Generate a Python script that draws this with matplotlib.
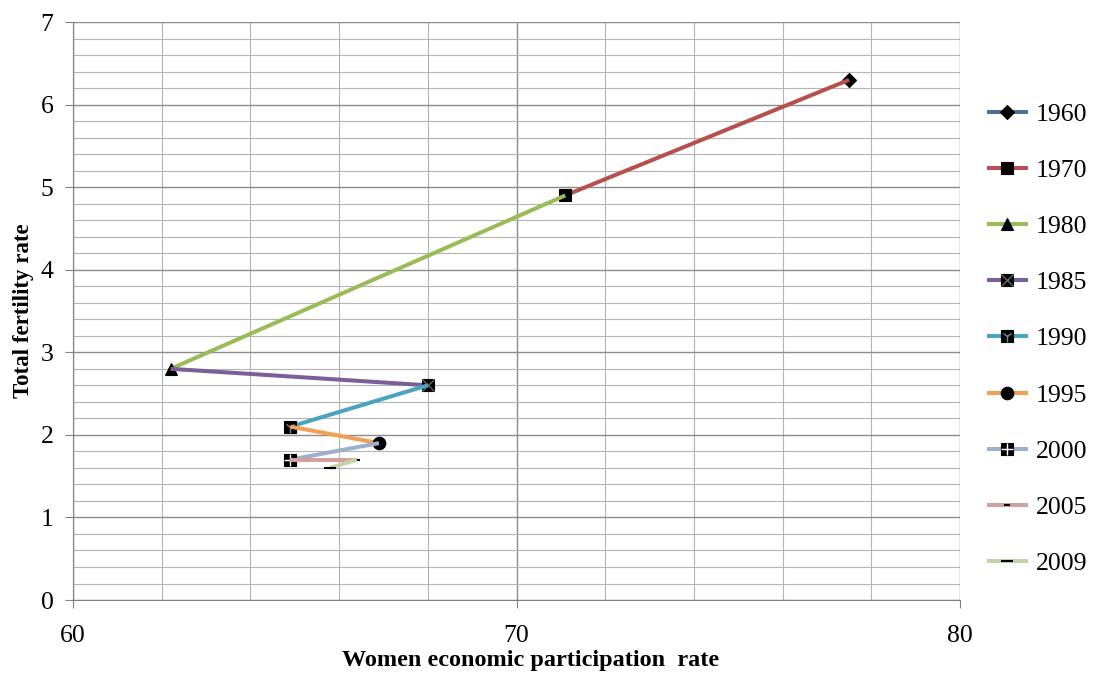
import matplotlib.pyplot as plt
from matplotlib.ticker import MultipleLocator

# Data
years = ['1960', '1970', '1980', '1985', '1990', '1995', '2000', '2005', '2009']
participation = [77.5, 71.1, 62.2, 68.0, 64.9, 66.9, 64.9, 66.4, 65.8]
fertility = [6.3, 4.9, 2.8, 2.6, 2.1, 1.9, 1.7, 1.7, 1.6]

colors = ['#4F6F93', '#B5504C', '#9BBB59', '#7A5F99', '#4BA3BC',
          '#F0A050', '#9DB0CC', '#D3A0A0', '#C3D3A8']
markers = ['D', 's', '^', 's', 's', 'o', 's', '_', '_']
msizes = [7, 9, 8, 9, 9, 9, 9, 5, 9]
# small overlays drawn on top of some markers (x, star, plus)
overlay = [None, None, None, 'x', '1', None, '+', None, None]
overlay_col = [None, None, None, '#666666', '#888888', None, 'white', None, None]

plt.rcParams['font.family'] = ['Liberation Serif', 'DejaVu Serif']

fig = plt.figure(figsize=(11, 6.77), dpi=100)
ax = fig.add_axes([0.0664, 0.1137, 0.8063, 0.8538])

handles = []
for i, yr in enumerate(years):
    if i == 0:
        xs, ys = [participation[0]], [fertility[0]]
        mev = [0]
    else:
        xs = [participation[i - 1], participation[i]]
        ys = [fertility[i - 1], fertility[i]]
        mev = [1]
    ln, = ax.plot(xs, ys, color=colors[i], linewidth=2.9, marker=markers[i],
                  markersize=msizes[i], markerfacecolor='black',
                  markeredgecolor='black', markeredgewidth=1.5 if markers[i] == '_' else 0.8,
                  markevery=mev, zorder=3 + i, solid_capstyle='butt')
    h = ln
    if overlay[i]:
        ov, = ax.plot([participation[i]], [fertility[i]], linestyle='none',
                      marker=overlay[i], markersize=msizes[i] - 1,
                      markeredgecolor=overlay_col[i], markeredgewidth=1.0,
                      zorder=3 + i)
        h = (ln, ov)
    handles.append(h)

ax.set_xlim(60, 80)
ax.set_ylim(0, 7)
ax.xaxis.set_major_locator(MultipleLocator(10))
ax.xaxis.set_minor_locator(MultipleLocator(2))
ax.yaxis.set_major_locator(MultipleLocator(1))
ax.yaxis.set_minor_locator(MultipleLocator(0.2))
ax.grid(which='major', color='#8c8c8c', linewidth=1.0)
ax.grid(which='minor', color='#b4b4b4', linewidth=0.8)
ax.set_axisbelow(True)
ax.tick_params(which='major', direction='out', length=6, color='#808080',
               labelsize=18.5, pad=8)
ax.tick_params(which='minor', length=0)
ax.tick_params(axis='x', pad=12)
for s in ['top', 'right']:
    ax.spines[s].set_visible(False)
for s in ['left', 'bottom']:
    ax.spines[s].set_color('#808080')

ax.set_xlabel('Women economic participation  rate', fontsize=17.5, fontweight='bold')
ax.set_ylabel('Total fertility rate', fontsize=16.5, fontweight='bold')
ax.xaxis.set_label_coords(0.516, -0.087)
ax.yaxis.set_label_coords(-0.044, 0.5)

leg = fig.legend(handles, years, loc='upper left', bbox_to_anchor=(0.897, 0.848),
                 frameon=False, fontsize=18.5, labelspacing=1.29, handlelength=1.6,
                 handletextpad=0.3, numpoints=1, borderaxespad=0, borderpad=0)

fig.savefig('out.png', dpi=100)
